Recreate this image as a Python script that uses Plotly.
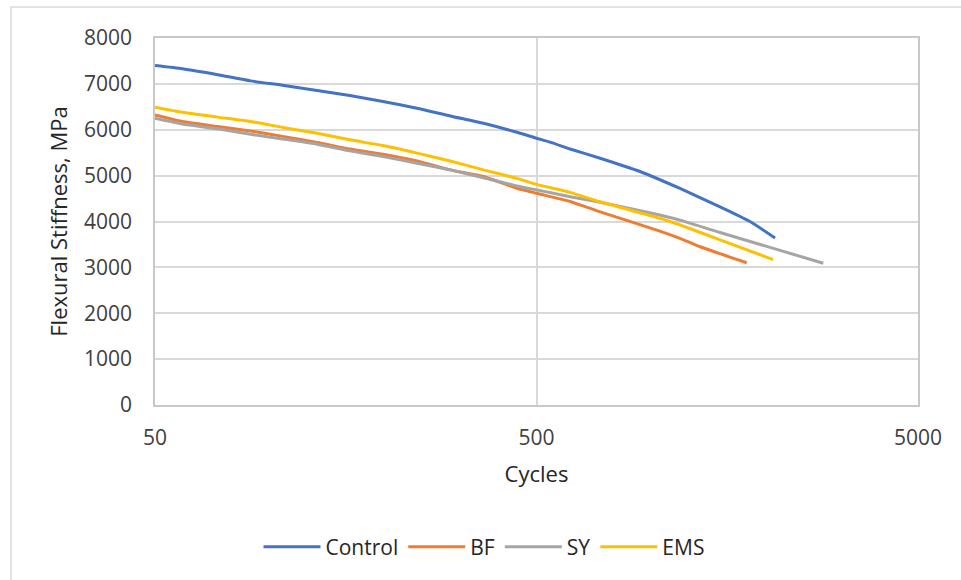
import plotly.graph_objects as go

# Flexural stiffness (MPa) vs. load cycles for four mixes
control_cycles = [50, 59, 73, 89, 109, 133, 162, 198, 243, 297, 363, 444, 500, 543, 612, 734, 934, 1189, 1514, 1814, 2110]
control_stiff = [7400, 7330, 7200, 7065, 6965, 6855, 6745, 6615, 6470, 6300, 6140, 5945, 5815, 5730, 5580, 5380, 5090, 4720, 4320, 4000, 3640]

bf_cycles = [50, 59, 73, 89, 109, 133, 162, 198, 243, 297, 363, 444, 500, 612, 734, 1053, 1189, 1342, 1778]
bf_stiff = [6325, 6180, 6070, 5975, 5850, 5725, 5580, 5465, 5320, 5125, 4980, 4725, 4615, 4435, 4210, 3790, 3630, 3450, 3100]

sy_cycles = [50, 59, 73, 89, 109, 133, 162, 198, 243, 297, 363, 444, 500, 612, 734, 1053, 1189, 1514, 2176, 2823]
sy_stiff = [6250, 6125, 6020, 5900, 5795, 5685, 5540, 5415, 5270, 5125, 4955, 4775, 4690, 4540, 4420, 4140, 4030, 3760, 3370, 3090]

ems_cycles = [50, 59, 73, 89, 109, 133, 162, 198, 243, 297, 363, 444, 500, 612, 734, 1053, 1189, 1514, 2085]
ems_stiff = [6490, 6380, 6275, 6180, 6045, 5925, 5780, 5655, 5490, 5320, 5125, 4940, 4810, 4635, 4430, 4070, 3925, 3600, 3170]

series = [
    ("Control", control_cycles, control_stiff, "#4472C4"),
    ("BF", bf_cycles, bf_stiff, "#ED7D31"),
    ("SY", sy_cycles, sy_stiff, "#A5A5A5"),
    ("EMS", ems_cycles, ems_stiff, "#FFC000"),
]

x_ticks = [50, 500, 5000]
y_ticks = [0, 1000, 2000, 3000, 4000, 5000, 6000, 7000, 8000]

FONT = "Open Sans"
TXT = "#404040"
TITLE = "#262626"

fig = go.Figure()
for name, xs, ys, color in series:
    fig.add_trace(go.Scatter(
        x=xs, y=ys, name=name, mode="lines",
        line=dict(color=color, width=3, shape="spline", smoothing=0.5),
    ))

W, H = 961, 580
L, R, T, B = 155, 43, 38, 175
pw, ph = W - L - R, H - T - B


def px_x(p):
    return (p - L) / pw


def px_y(p):
    return (H - B - p) / ph


# outer chart frame
fig.add_shape(type="rect", xref="paper", yref="paper",
              x0=px_x(11), x1=px_x(970), y0=px_y(590), y1=px_y(7),
              line=dict(color="#d9d9d9", width=1.5), layer="below")

fig.update_layout(
    width=W, height=H,
    margin=dict(l=L, r=R, t=T, b=B, pad=0),
    paper_bgcolor="white", plot_bgcolor="white",
    font=dict(family=FONT, color=TXT, size=21),
    showlegend=True,
    legend=dict(orientation="h", x=px_x(484), xanchor="center",
                y=px_y(547), yanchor="middle",
                font=dict(family=FONT, size=21, color=TITLE),
                itemwidth=57, tracegroupgap=0),
)

fig.update_xaxes(
    type="log", range=[1.69897, 3.69897],
    tickvals=x_ticks, ticktext=[str(v) for v in x_ticks],
    showgrid=True, gridcolor="#d9d9d9", gridwidth=1.5,
    showline=True, linecolor="#c8c8c8", linewidth=1.5, mirror=True,
    ticks="", ticklabelstandoff=13,
    tickfont=dict(size=21, color=TXT),
    title=dict(text="Cycles", font=dict(size=22, color=TITLE), standoff=17),
    zeroline=False,
)
fig.update_yaxes(
    range=[0, 8000], tickvals=y_ticks,
    showgrid=True, gridcolor="#d9d9d9", gridwidth=1.5,
    showline=True, linecolor="#c8c8c8", linewidth=1.5, mirror=True,
    ticks="", ticklabelstandoff=17,
    tickfont=dict(size=21, color=TXT),
    title=dict(text="Flexural Stiffness, MPa", font=dict(size=22, color=TITLE), standoff=10),
    zeroline=False,
)

fig.write_html("out.html")
